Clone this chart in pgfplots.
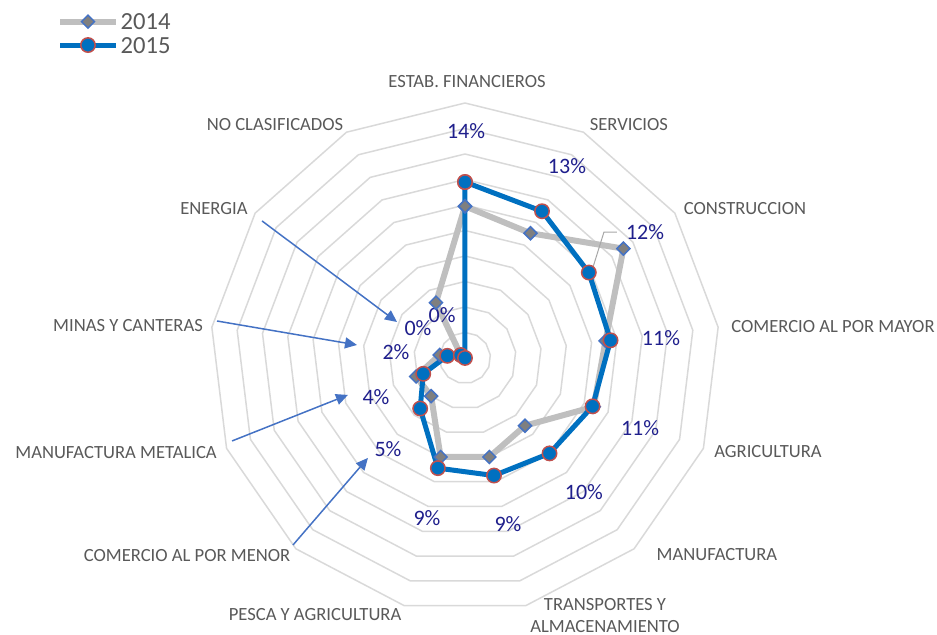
\documentclass[border=0pt]{standalone}
\usepackage{pgfplots}
\pgfplotsset{compat=1.18}
\usepackage{fontspec}
\setmainfont{Carlito}
\usetikzlibrary{arrows.meta}
\definecolor{ringgray}{HTML}{D9D9D9}
\definecolor{line14}{HTML}{BFBFBF}
\definecolor{mark14}{HTML}{7F7F7F}
\definecolor{edge14}{HTML}{4472C4}
\definecolor{line15}{HTML}{0070C0}
\definecolor{edge15}{HTML}{C0504D}
\definecolor{catgray}{HTML}{595959}
\definecolor{lblblue}{HTML}{1F1F8C}
\definecolor{arrowblue}{HTML}{4472C4}
\begin{document}
\begin{tikzpicture}
\useasboundingbox (0,0) rectangle (468.5pt,317.5pt);
\begin{axis}[
  at={(0,0)}, anchor=south west,
  width=468.5pt, height=317.5pt, scale only axis,
  xmin=-36.47, xmax=37.02, ymin=-21.73, ymax=28.08,
  hide axis, clip=false,
  legend style={at={(axis cs:-32.0,27.33)}, anchor=north west, draw=none, fill=none,
    inner sep=0pt, row sep=0pt, text=catgray,
    font=\fontsize{12.3}{12.5}\selectfont,
    nodes={inner sep=1pt, text height=8.9pt, text depth=0.8pt},
    /tikz/every odd column/.append style={column sep=0pt}},
  legend cell align=left,
  legend image code/.code={\draw[mark repeat=2,mark phase=2,#1] plot coordinates {(0cm,0cm) (0.485cm,0cm) (0.97cm,0cm)};},
]
% polygon rings
\pgfplotsinvokeforeach{2,4,...,20}{
\addplot[ringgray, line width=0.75pt, data cs=polar, forget plot] coordinates {
(90,#1) (62.3077,#1) (34.6154,#1) (6.9231,#1) (-20.7692,#1) (-48.4615,#1) (-76.1538,#1)
(-103.8462,#1) (-131.5385,#1) (-159.2308,#1) (-186.9231,#1) (-214.6154,#1) (-242.3077,#1) (-270,#1)};
}
% 2014
\addplot[line14, line width=3pt, data cs=polar, mark=square*, mark size=2.3pt,
  mark options={fill=mark14, draw=edge14, line width=0.75pt, rotate=45}] coordinates {
(90,11.9) (62.3077,11.05) (34.6154,15.1) (6.9231,11.1) (-20.7692,10.8) (-48.4615,7.1) (-76.1538,8.0)
(-103.8462,8.0) (-131.5385,4.0) (-159.2308,4.1) (-186.9231,2.0) (-214.6154,0.4) (-242.3077,4.9) (-270,11.9)};
\addlegendentry{2014}
% 2015
\addplot[line15, line width=2.5pt, data cs=polar, mark=*, mark size=3.6pt,
  mark options={fill=line15, draw=edge15, line width=0.75pt}] coordinates {
(90,13.8) (62.3077,13.0) (34.6154,11.8) (6.9231,11.5) (-20.7692,10.7) (-48.4615,10.0) (-76.1538,9.5)
(-103.8462,8.9) (-131.5385,5.3) (-159.2308,3.5) (-186.9231,1.4) (-214.6154,0.4) (-242.3077,0.0) (-270,13.8)};
\addlegendentry{2015}
% category labels
\begin{scope}[every node/.style={text=catgray, font=\fontsize{9.3}{11}\selectfont, inner sep=0pt}]
\node at (axis cs:0.16,21.65) {ESTAB. FINANCIEROS};
\node at (axis cs:12.86,18.35) {SERVICIOS};
\node at (axis cs:21.96,11.76) {CONSTRUCCION};
\node at (axis cs:28.86,2.43) {COMERCIO AL POR MAYOR};
\node at (axis cs:23.76,-7.37) {AGRICULTURA};
\node at (axis cs:19.76,-15.45) {MANUFACTURA};
\node[align=center] at (axis cs:10.98,-20.24) {TRANSPORTES Y\\ALMACENAMIENTO};
\node at (axis cs:-11.76,-20.16) {PESCA Y AGRICULTURA};
\node at (axis cs:-21.80,-15.53) {COMERCIO AL POR MENOR};
\node at (axis cs:-27.37,-7.45) {MANUFACTURA METALICA};
\node at (axis cs:-26.43,2.51) {MINAS Y CANTERAS};
\node at (axis cs:-19.69,11.76) {ENERGIA};
\node at (axis cs:-14.90,18.35) {NO CLASIFICADOS};
\end{scope}
% data labels
\begin{scope}[every node/.style={text=lblblue, font=\fontsize{11}{13}\selectfont, inner sep=0pt}]
\node at (axis cs:0.08,17.80) {14\%};
\node at (axis cs:8.0,15.06) {13\%};
\node at (axis cs:14.12,9.88) {12\%};
\node at (axis cs:15.37,1.57) {11\%};
\node at (axis cs:13.73,-5.49) {11\%};
\node at (axis cs:9.33,-10.51) {10\%};
\node at (axis cs:3.37,-13.02) {9\%};
\node at (axis cs:-2.98,-12.55) {9\%};
\node at (axis cs:-6.04,-7.14) {5\%};
\node at (axis cs:-6.98,-3.06) {4\%};
\node at (axis cs:-5.41,0.47) {2\%};
\node at (axis cs:-3.69,2.35) {0\%};
\node at (axis cs:-1.80,3.37) {0\%};
\end{scope}
% leader line for 12%
\draw[gray!70, line width=0.5pt] (axis cs:11.92,9.88) -- (axis cs:10.90,9.88) -- (axis cs:9.80,6.35);
% arrows
\begin{scope}[arrowblue, line width=0.75pt, -{Triangle[length=6pt,width=5.5pt]}]
\draw (axis cs:-15.92,10.75) -- (axis cs:-5.33,2.82);
\draw (axis cs:-19.45,2.90) -- (axis cs:-8.47,1.02);
\draw (axis cs:-18.27,-6.51) -- (axis cs:-9.18,-2.90);
\draw (axis cs:-13.49,-14.67) -- (axis cs:-7.61,-7.84);
\end{scope}
\end{axis}
\end{tikzpicture}
\end{document}
